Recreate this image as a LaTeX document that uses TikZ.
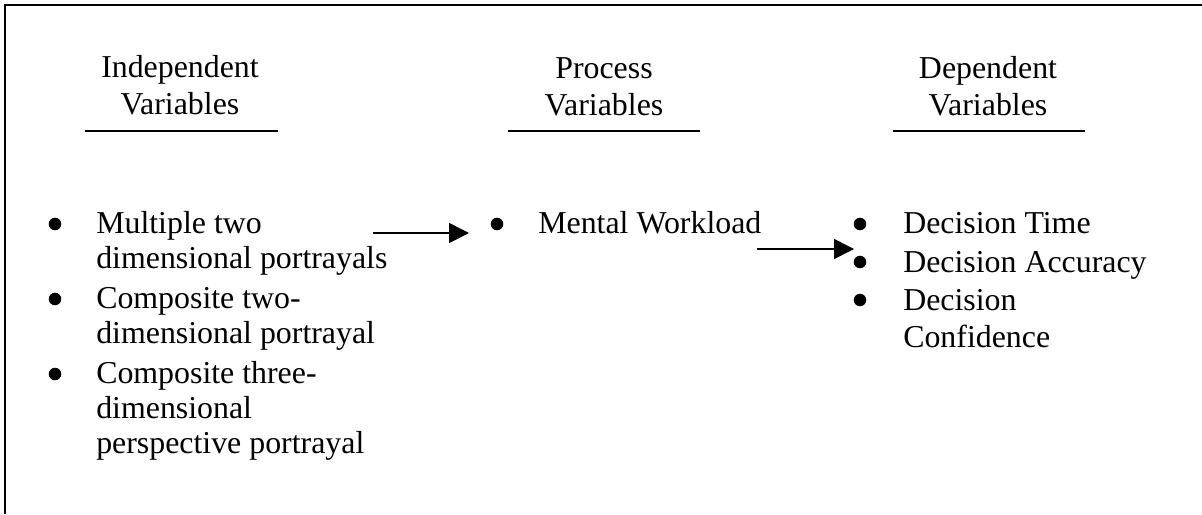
\documentclass[tikz,border=0pt]{standalone}
\usepackage{fontspec}
\setmainfont{Liberation Serif}
\usetikzlibrary{arrows.meta}
\begin{document}
\begin{tikzpicture}[x=0.75pt,y=-0.75pt,
  txt/.style={inner sep=0pt, font=\fontsize{23.9}{27}\selectfont, anchor=base west},
  head/.style={txt, anchor=base},
  rule/.style={line width=1.7pt},
  dot/.style={circle, fill=black, inner sep=0pt, minimum size=9.4pt},
  flow/.style={line width=1.2pt, -{Triangle[length=15pt,width=15pt]}},
]
\useasboundingbox (0,0) rectangle (1202,514);

% frame
\draw[rule] (5,514) -- (5,5) -- (1202,5);

% column headings
\node[head] (h1a) at (180,77) {Independent};
\node[head] (h1b) at (180,114) {Variables};
\node[head] (h2a) at (604,78) {Process};
\node[head] (h2b) at (604,115) {Variables};
\node[head] (h3a) at (988,78) {Dependent};
\node[head] (h3b) at (988,115) {Variables};

\draw[rule] (85,131) coordinate (u1l) -- (278,131) coordinate (u1r);
\draw[rule] (508,131) coordinate (u2l) -- (700,131) coordinate (u2r);
\draw[rule] (893,131) coordinate (u3l) -- (1085,131) coordinate (u3r);

% independent variables
\node[dot] (b11) at (55,224) {};
\node[txt] (l11) at (96,233) {Multiple two};
\node[txt] (l12) at (96,268) {dimensional portrayals};
\node[dot] (b12) at (55,299) {};
\node[txt] (l21) at (96,308) {Composite two-};
\node[txt] (l22) at (96,343) {dimensional portrayal};
\node[dot] (b13) at (55,374) {};
\node[txt] (l31) at (96,383) {Composite three-};
\node[txt] (l32) at (96,418) {dimensional};
\node[txt] (l33) at (96,453) {perspective portrayal};

% process variables
\node[dot] (b21) at (497,224) {};
\node[txt] (m1) at (538,233) {Mental Workload};

% dependent variables
\node[dot] (b31) at (860,224) {};
\node[txt] (r1) at (903,233) {Decision Time};
\node[dot] (b32) at (860,262) {};
\node[txt] (r2) at (903,272) {Decision Accuracy};
\node[dot] (b33) at (860,300) {};
\node[txt] (r3) at (903,310) {Decision};
\node[txt] (r4) at (903,347) {Confidence};

% arrows between the columns
\coordinate (a1s) at (373,233);
\coordinate (a1e) at (469,233);
\coordinate (a2s) at (757,249);
\coordinate (a2e) at (854,249);
\draw[flow] (a1s) -- (a1e);
\draw[flow] (a2s) -- (a2e);
\end{tikzpicture}
\end{document}
